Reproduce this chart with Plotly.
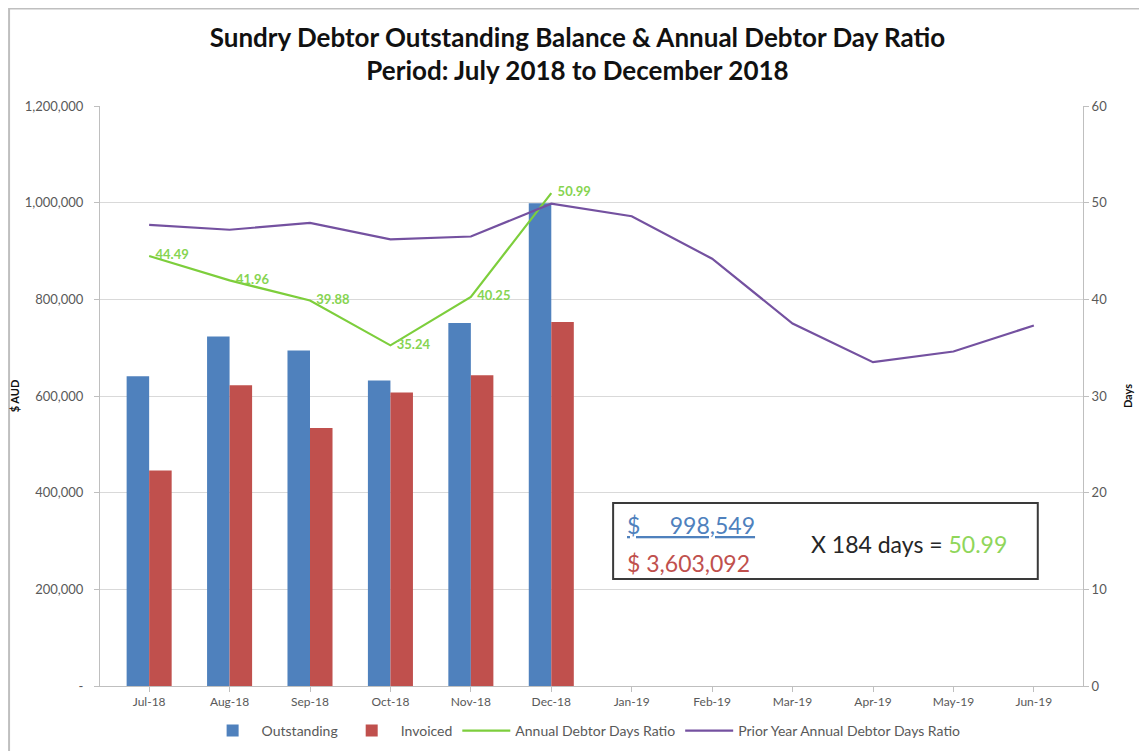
import plotly.graph_objects as go

# ---------------------------------------
# Data
# ---------------------------------------
months = ["Jul-18", "Aug-18", "Sep-18", "Oct-18", "Nov-18", "Dec-18",
          "Jan-19", "Feb-19", "Mar-19", "Apr-19", "May-19", "Jun-19"]

outstanding = [641000, 723000, 694000, 632000, 751000, 998549,
               None, None, None, None, None, None]

invoiced = [446000, 622000, 534000, 607000, 643000, 753000,
            None, None, None, None, None, None]

debtor_days = [44.49, 41.96, 39.88, 35.24, 40.25, 50.99,
               None, None, None, None, None, None]

prior_year_days = [47.7, 47.2, 47.9, 46.2, 46.5, 49.9,
                   48.6, 44.2, 37.5, 33.5, 34.6, 37.3]

left_ticks = [0, 200000, 400000, 600000, 800000, 1000000, 1200000]
left_tick_text = ["-", "200,000", "400,000", "600,000", "800,000", "1,000,000", "1,200,000"]
right_ticks = [0, 10, 20, 30, 40, 50, 60]

FONT = "Lato, 'Open Sans', sans-serif"
GREY = "#595959"

fig = go.Figure()

fig.add_trace(go.Bar(
    x=months, y=outstanding, name="Outstanding",
    marker=dict(color="#4F81BD", line=dict(width=0))
))

fig.add_trace(go.Bar(
    x=months, y=invoiced, name="Invoiced",
    marker=dict(color="#C0504D", line=dict(width=0))
))

fig.add_trace(go.Scatter(
    x=months, y=debtor_days, name="Annual Debtor Days Ratio",
    mode="lines+text", yaxis="y2",
    line=dict(color="#7DCE3C", width=2.2),
    text=[f"&nbsp;&nbsp;{v:.2f}" if v is not None else "" for v in debtor_days],
    textposition="middle right",
    textfont=dict(color="#86D451", size=13, family=FONT, weight="bold"),
    cliponaxis=False
))

fig.add_trace(go.Scatter(
    x=months, y=prior_year_days, name="Prior Year Annual Debtor Days Ratio",
    mode="lines", yaxis="y2",
    line=dict(color="#7451A0", width=2.2)
))

# calculation box
fig.add_shape(type="rect", xref="paper", yref="paper",
              x0=0.522, x1=0.954, y0=0.1845, y1=0.3155,
              line=dict(color="#3a3a3a", width=2), fillcolor="white", layer="above")

fig.add_annotation(xref="paper", yref="paper", x=0.534, y=0.277,
                   xanchor="left", yanchor="middle", showarrow=False,
                   text="<u>$&nbsp;&nbsp;&nbsp;&nbsp;&nbsp;998,549</u>",
                   font=dict(size=23, color="#4F81BD", family=FONT))

fig.add_annotation(xref="paper", yref="paper", x=0.534, y=0.212,
                   xanchor="left", yanchor="middle", showarrow=False,
                   text="$ 3,603,092",
                   font=dict(size=23, color="#C0504D", family=FONT))

fig.add_annotation(xref="paper", yref="paper", x=0.721, y=0.245,
                   xanchor="left", yanchor="middle", showarrow=False,
                   text="X 184 days = <span style='color:#8FD65A'>50.99</span>",
                   font=dict(size=23, color="#262626", family=FONT))

# outer chart border (left and top edges visible)
fig.add_shape(type="rect", xref="paper", yref="paper",
              x0=-0.0925, x1=1.2, y0=-0.3, y1=1.1681,
              line=dict(color="#bfbfbf", width=2))

fig.update_layout(
    width=1139, height=743,
    margin=dict(l=92, r=64, t=98, b=65, autoexpand=False),
    paper_bgcolor="white", plot_bgcolor="white",
    font=dict(family=FONT, color=GREY, size=12),
    title=dict(
        text="Sundry Debtor Outstanding Balance & Annual Debtor Day Ratio<br>Period: July 2018 to December 2018",
        x=0.5, xanchor="center", y=0.948, yanchor="middle",
        font=dict(size=26, color="#111111", family=FONT, weight="bold")
    ),
    barmode="group", bargap=0.44, bargroupgap=0,
    xaxis=dict(
        showline=True, linecolor="#bfbfbf", ticks="outside", ticklen=5,
        tickcolor="#bfbfbf", showgrid=False, automargin=False,
        tickfont=dict(size=12, color=GREY)
    ),
    yaxis=dict(
        range=[0, 1200000], tickvals=left_ticks, ticktext=left_tick_text,
        showline=True, linecolor="#bfbfbf", ticks="outside", ticklen=5,
        tickcolor="#bfbfbf", gridcolor="#d9d9d9", zeroline=False, automargin=False,
        ticklabelstandoff=8,
        title=dict(text="$ AUD", font=dict(size=11, color="#111111", weight="bold"), standoff=4),
        tickfont=dict(size=13, color=GREY)
    ),
    yaxis2=dict(
        range=[0, 60], tickvals=right_ticks, overlaying="y", side="right",
        showline=True, linecolor="#bfbfbf", ticks="outside", ticklen=5,
        tickcolor="#bfbfbf", showgrid=False, zeroline=False, automargin=False,
        title=dict(text="Days", font=dict(size=11, color="#111111", weight="bold"), standoff=18),
        tickfont=dict(size=13, color=GREY)
    ),
    legend=dict(
        orientation="h", x=0.493, xanchor="center", y=-0.0776, yanchor="middle",
        font=dict(size=14, color=GREY), traceorder="normal", itemwidth=48
    )
)

fig.write_html("out.html")
